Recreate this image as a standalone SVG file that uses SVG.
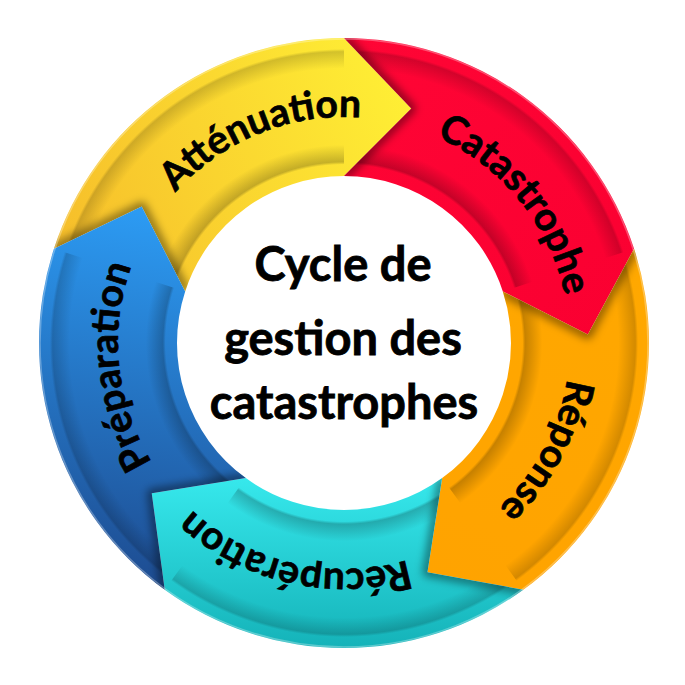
<svg xmlns="http://www.w3.org/2000/svg" xmlns:xlink="http://www.w3.org/1999/xlink" width="685" height="685" viewBox="0 0 685 685">
<style>
  .lbl { font-family: Lato, "Open Sans", "Liberation Sans", sans-serif; font-weight: 700; font-size: 39px; fill: #000; stroke: #000; stroke-width: 0.7; }
  .ctr { font-family: Lato, "Open Sans", "Liberation Sans", sans-serif; font-weight: 700; font-size: 47px; fill: #000; stroke: #000; stroke-width: 0.8; text-anchor: middle; }
  .groove { fill: url(#groove); }
  .shadow { fill: none; stroke: #000; stroke-opacity: 0.45; stroke-width: 9; stroke-linejoin: round; filter: url(#blur); }
</style>
<defs>
  <linearGradient id="gYellow" gradientUnits="userSpaceOnUse" x1="60" y1="260" x2="420" y2="95">
    <stop offset="0" stop-color="#F6BD2A"/>
    <stop offset="1" stop-color="#FFF035"/>
  </linearGradient>
  <linearGradient id="gRed" gradientUnits="userSpaceOnUse" x1="344" y1="40" x2="630" y2="330">
    <stop offset="0" stop-color="#FF0535"/>
    <stop offset="1" stop-color="#FA0031"/>
  </linearGradient>
  <linearGradient id="gOrange" gradientUnits="userSpaceOnUse" x1="600" y1="250" x2="450" y2="590">
    <stop offset="0" stop-color="#FFA800"/>
    <stop offset="1" stop-color="#FFA300"/>
  </linearGradient>
  <linearGradient id="gCyan" gradientUnits="userSpaceOnUse" x1="0" y1="475" x2="0" y2="650">
    <stop offset="0" stop-color="#37E9ED"/>
    <stop offset="1" stop-color="#14B2B8"/>
  </linearGradient>
  <linearGradient id="gBlue" gradientUnits="userSpaceOnUse" x1="170" y1="215" x2="110" y2="585">
    <stop offset="0" stop-color="#2C9BF3"/>
    <stop offset="1" stop-color="#1D4B90"/>
  </linearGradient>
  <radialGradient id="groove" gradientUnits="userSpaceOnUse" cx="344" cy="343" r="305">
    <stop offset="0" stop-color="#000" stop-opacity="0"/>
    <stop offset="0.585" stop-color="#000" stop-opacity="0"/>
    <stop offset="0.594" stop-color="#000" stop-opacity="0.22"/>
    <stop offset="0.65" stop-color="#000" stop-opacity="0"/>
    <stop offset="0.90" stop-color="#000" stop-opacity="0"/>
    <stop offset="0.955" stop-color="#000" stop-opacity="0.17"/>
    <stop offset="0.964" stop-color="#000" stop-opacity="0"/>
    <stop offset="1" stop-color="#000" stop-opacity="0"/>
  </radialGradient>
  <filter id="blur" x="-30%" y="-30%" width="160%" height="160%">
    <feGaussianBlur stdDeviation="4"/>
  </filter>
  <path id="bYellow" d="M53.93,248.75 A305,305 0 0 1 344,38 L344,176 A167,167 0 0 0 185.17,291.39 L141.71,206.56 Z"/>
  <path id="bRed" d="M344,38 A305,305 0 0 1 634.07,248.75 L502.83,291.39 A167,167 0 0 0 344,176 L411.26,108.45 Z"/>
  <path id="bOrange" d="M634.07,248.75 A305,305 0 0 1 523.28,589.75 L442.16,478.11 A167,167 0 0 0 502.83,291.39 L587.85,334.48 Z"/>
  <path id="bCyan" d="M523.28,589.75 A305,305 0 0 1 164.72,589.75 L245.84,478.11 A167,167 0 0 0 442.16,478.11 L427.45,572.28 Z"/>
  <path id="bBlue" d="M164.72,589.75 A305,305 0 0 1 53.93,248.75 L185.17,291.39 A167,167 0 0 0 245.84,478.11 L151.73,493.22 Z"/>
  <clipPath id="cYellow"><use xlink:href="#bYellow"/></clipPath>
  <clipPath id="cRed"><use xlink:href="#bRed"/></clipPath>
  <clipPath id="cOrange"><use xlink:href="#bOrange"/></clipPath>
  <clipPath id="cCyan"><use xlink:href="#bCyan"/></clipPath>
  <clipPath id="cBlue"><use xlink:href="#bBlue"/></clipPath>
  <path id="tpYellow" d="M127.88,409.08 A226,226 0 0 1 545.37,240.40"/>
  <path id="tpRed" d="M217.62,155.64 A226,226 0 0 1 500.99,505.57"/>
  <path id="tpOrange" d="M467.09,153.46 A226,226 0 0 1 255.69,551.03"/>
  <path id="tpCyan" d="M558.94,412.84 A226,226 0 0 1 120.20,311.55"/>
  <path id="tpBlue" d="M347.94,568.97 A226,226 0 0 1 300.88,121.15"/>
</defs>
<rect width="685" height="685" fill="#fff"/>

<g id="node-attenuation">
  <path fill="url(#gYellow)" d="M53.93,248.75 A305,305 0 0 1 344,38 L411.26,108.45 L344,176 A167,167 0 0 0 185.17,291.39 L141.71,206.56 Z"/>
  <use xlink:href="#bYellow" class="groove"/>
  <g clip-path="url(#cYellow)"><path class="shadow" d="M53.93,248.75 L141.71,206.56 L185.17,291.39"/></g>
  <text class="lbl"><textPath xlink:href="#tpYellow" startOffset="50%" text-anchor="middle">Atténuation</textPath></text>
</g>

<g id="node-catastrophe">
  <path fill="url(#gRed)" d="M344,38 A305,305 0 0 1 634.07,248.75 L587.85,334.48 L502.83,291.39 A167,167 0 0 0 344,176 L411.26,108.45 Z"/>
  <use xlink:href="#bRed" class="groove"/>
  <g clip-path="url(#cRed)"><path class="shadow" d="M344,38 L411.26,108.45 L344,176"/></g>
  <text class="lbl"><textPath xlink:href="#tpRed" startOffset="50%" text-anchor="middle">Catastrophe</textPath></text>
</g>

<g id="node-reponse">
  <path fill="url(#gOrange)" d="M634.07,248.75 A305,305 0 0 1 523.28,589.75 L427.45,572.28 L442.16,478.11 A167,167 0 0 0 502.83,291.39 L587.85,334.48 Z"/>
  <use xlink:href="#bOrange" class="groove"/>
  <g clip-path="url(#cOrange)"><path class="shadow" d="M634.07,248.75 L587.85,334.48 L502.83,291.39"/></g>
  <text class="lbl"><textPath xlink:href="#tpOrange" startOffset="50%" text-anchor="middle">Réponse</textPath></text>
</g>

<g id="node-recuperation">
  <path fill="url(#gCyan)" d="M523.28,589.75 A305,305 0 0 1 164.72,589.75 L151.73,493.22 L245.84,478.11 A167,167 0 0 0 442.16,478.11 L427.45,572.28 Z"/>
  <use xlink:href="#bCyan" class="groove"/>
  <g clip-path="url(#cCyan)"><path class="shadow" d="M523.28,589.75 L427.45,572.28 L442.16,478.11"/></g>
  <text class="lbl"><textPath xlink:href="#tpCyan" startOffset="50%" text-anchor="middle">Récupération</textPath></text>
</g>

<g id="node-preparation">
  <path fill="url(#gBlue)" d="M164.72,589.75 A305,305 0 0 1 53.93,248.75 L141.71,206.56 L185.17,291.39 A167,167 0 0 0 245.84,478.11 L151.73,493.22 Z"/>
  <use xlink:href="#bBlue" class="groove"/>
  <g clip-path="url(#cBlue)"><path class="shadow" d="M164.72,589.75 L151.73,493.22 L245.84,478.11"/></g>
  <text class="lbl"><textPath xlink:href="#tpBlue" startOffset="50%" text-anchor="middle">Préparation</textPath></text>
</g>

<g id="connectors"></g>

<circle cx="344" cy="343" r="304" fill="none" stroke="#fff" stroke-opacity="0.3" stroke-width="1.5"/>

<g id="node-centre">
  <text class="ctr" x="343" y="281">Cycle de</text>
  <text class="ctr" x="343" y="355">gestion des</text>
  <text class="ctr" x="344" y="419">catastrophes</text>
</g>
</svg>
